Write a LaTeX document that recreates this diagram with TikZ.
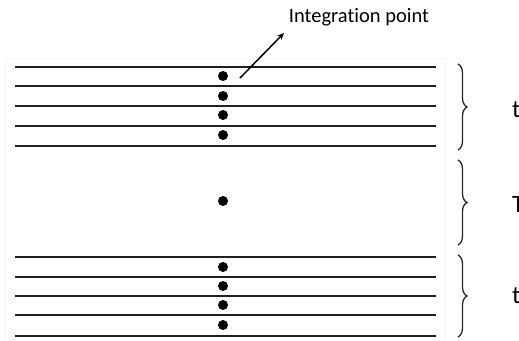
\documentclass[tikz,border=0pt]{standalone}
\usepackage{fontspec}
\setmainfont[Ligatures=NoCommon]{Carlito}
\usetikzlibrary{arrows.meta,positioning,decorations.pathreplacing}
\tikzset{
  plyline/.style={line width=2pt,black!88},
  ipdot/.style={circle,fill=black,inner sep=0pt,minimum size=10pt},
  plybrace/.style={decorate,decoration={brace,amplitude=9pt},line width=1.3pt,black!85},
  lbl/.style={anchor=west,font=\fontsize{25}{28}\selectfont,inner sep=0pt},
  callout/.style={-{Stealth[length=7pt,width=6pt]},line width=1.5pt},
}
\begin{document}
\begin{tikzpicture}[x=1pt,y=-1pt]
    \useasboundingbox (0,0) rectangle (519,340);
    \clip (0,0) rectangle (519,340);
    \draw[black!4] (5,58) rectangle (445,341);
    % top and bottom plies
    \foreach \y in {67,86,106,126,146,257,277,296,315,336}
      \draw[plyline] (15,\y) -- (436,\y);
    % integration points
    \foreach \y/\n in {76/a,96/b,115/c,135/d,201/m,267/e,286/f,305/g,325/h}
      \node[ipdot] (ip\n) at (223,\y) {};
    % braces and labels
    \coordinate (tb1) at (458,64);  \coordinate (tb2) at (458,150);
    \coordinate (mb1) at (458,160); \coordinate (mb2) at (458,245);
    \coordinate (bb1) at (458,255); \coordinate (bb2) at (458,337);
    \draw[plybrace] (tb1) -- (tb2);
    \draw[plybrace] (mb1) -- (mb2);
    \draw[plybrace] (bb1) -- (bb2);
    \node[lbl] (ttop) at (512,110) {t};
    \node[lbl] (tmid) at (512,204) {T};
    \node[lbl] (tbot) at (512,296) {t};
    % callout
    \node[font=\fontsize{20.5}{24}\selectfont] (iplabel) at (359,17) {Integration point};
    \coordinate (cstart) at (240,78);
    \coordinate (cend) at (284,33);
    \draw[callout] (cstart) -- (cend);
  \end{tikzpicture}
\end{document}
